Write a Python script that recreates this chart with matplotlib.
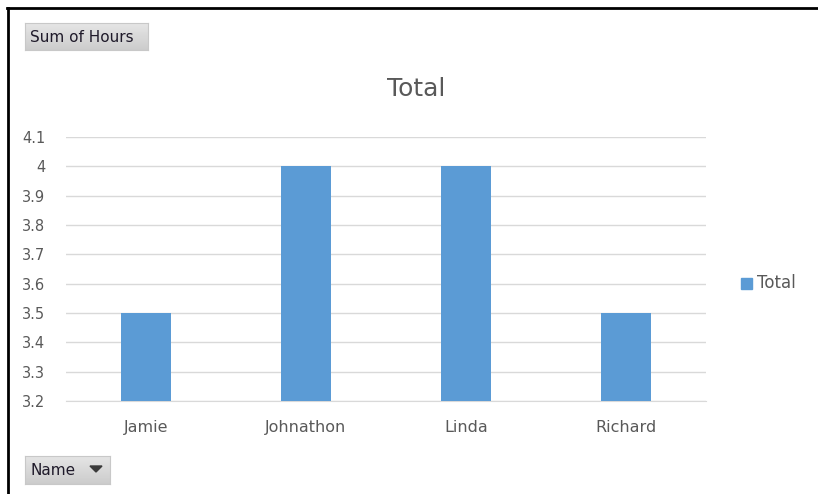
import numpy as np
import matplotlib.pyplot as plt
from matplotlib.patches import Rectangle, Polygon

names = ["Jamie", "Johnathon", "Linda", "Richard"]
hours = [3.5, 4.0, 4.0, 3.5]
yticks = [3.2, 3.3, 3.4, 3.5, 3.6, 3.7, 3.8, 3.9, 4.0, 4.1]
ytick_labels = ["3.2", "3.3", "3.4", "3.5", "3.6", "3.7", "3.8", "3.9", "4", "4.1"]

W, H = 818, 494
fig = plt.figure(figsize=(W / 100, H / 100), dpi=100)

def fx(px):
    return px / W

def fy(py):
    return 1 - py / H

# frame lines (top and left)
fig.add_artist(plt.Line2D([fx(7), 1], [fy(8.5), fy(8.5)], color="black", lw=2))
fig.add_artist(plt.Line2D([fx(7.5), fx(7.5)], [fy(8), 0], color="black", lw=2))

ax = fig.add_axes([fx(66), fy(401), fx(706) - fx(66), fy(137) - fy(401)])
ax.bar(range(len(names)), hours, width=0.3125, color="#5B9BD5", zorder=3, label="Total")
ax.set_xlim(-0.5, len(names) - 0.5)
ax.set_ylim(3.2, 4.1)
ax.set_yticks(yticks)
ax.set_yticklabels(ytick_labels)
ax.set_xticks(range(len(names)))
ax.set_xticklabels(names)
ax.grid(axis="y", color="#D9D9D9", lw=1, zorder=0)
for s in ["top", "right", "left"]:
    ax.spines[s].set_visible(False)
ax.spines["bottom"].set_color("#D9D9D9")
ax.tick_params(length=0, colors="#595959")
ax.tick_params(axis="y", pad=15, labelsize=10.5)
ax.tick_params(axis="x", pad=14, labelsize=11.5)

fig.text(fx(416), fy(89), "Total", ha="center", va="center", fontsize=18, color="#595959")

# legend
fig.add_artist(Rectangle((fx(741), fy(289)), fx(11), 11 / H, color="#5B9BD5"))
fig.text(fx(757), fy(283), "Total", ha="left", va="center", fontsize=12, color="#595959")

# field buttons with a light grey gradient
def button(x0, y0, x1, y1):
    bax = fig.add_axes([fx(x0), fy(y1), fx(x1 - x0), (y1 - y0) / H])
    grad = np.linspace(0.90, 0.80, 50).reshape(-1, 1)
    bax.imshow(grad, cmap="gray", vmin=0, vmax=1, aspect="auto", extent=[0, 1, 0, 1])
    bax.set_xticks([])
    bax.set_yticks([])
    for sp in bax.spines.values():
        sp.set_color("#C8C8C8")
        sp.set_linewidth(0.8)

button(25, 23, 148, 50)
fig.text(fx(30), fy(37), "Sum of Hours", ha="left", va="center", fontsize=11, color="#1F1A2A")
button(25, 456, 110, 484)
fig.text(fx(30), fy(470), "Name", ha="left", va="center", fontsize=11, color="#1F1A2A")
fig.add_artist(Polygon([(fx(90), fy(466)), (fx(102), fy(466)), (fx(96), fy(472))],
                       closed=True, color="#3A3A3A"))

plt.savefig("out.png", dpi=100)
